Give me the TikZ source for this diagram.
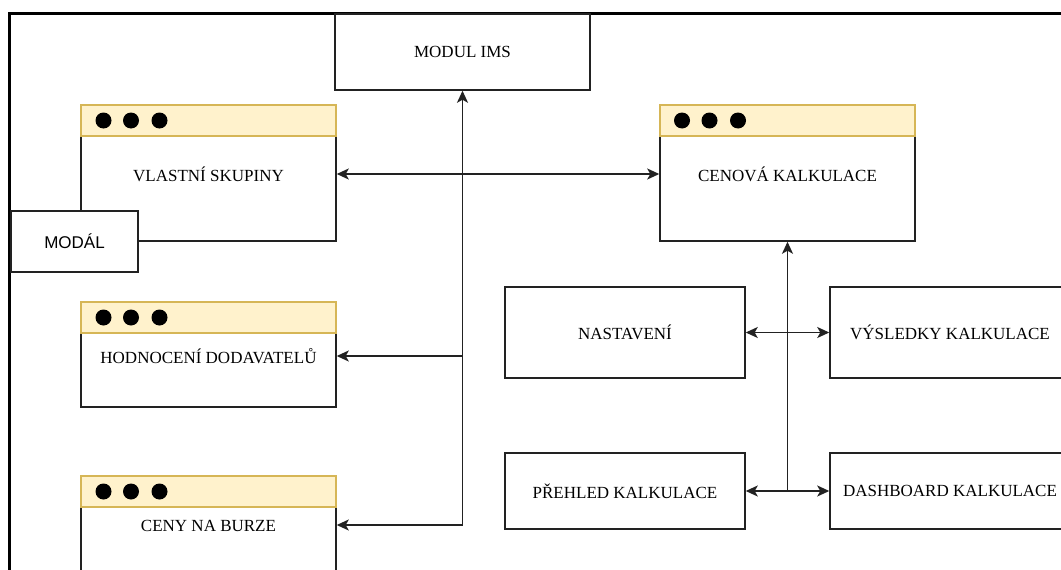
\documentclass[tikz,border=0pt]{standalone}
\usepackage{fontspec}
\setmainfont{Liberation Serif}
\newfontfamily\modalfont{Liberation Sans}
\usetikzlibrary{arrows.meta}
\definecolor{hdrfill}{HTML}{FFF2CC}
\definecolor{hdrdraw}{HTML}{D6B656}
\definecolor{boxline}{HTML}{222222}
\tikzset{
  box/.style={draw=boxline, line width=1.5pt, fill=white, inner sep=0pt, minimum width=#1},
  hdr/.style={draw=hdrdraw, line width=1.5pt, fill=hdrfill, inner sep=0pt, minimum width=255pt, minimum height=31pt},
  dot/.style={fill=black, circle, inner sep=0pt, minimum size=16pt},
  lbl/.style={font=\fontsize{17}{19}\selectfont, inner sep=0pt},
  tip/.tip={Stealth[length=12pt,width=11pt,inset=3pt]},
  arr/.style={draw=boxline, line width=1.5pt, -tip},
  darr/.style={draw=boxline, line width=1.5pt, tip-tip},
  frame/.style={draw=black, line width=2.5pt}
}
\begin{document}
\begin{tikzpicture}[x=1pt,y=-1pt]
\clip (0,0) rectangle (1061,570);
\fill[white] (0,0) rectangle (1061,570);
% outer frame
\draw[frame] (9.5,575) -- (9.5,13.5) -- (1070,13.5);
% MODUL IMS
\node[box=255pt, minimum height=76pt] (ims) at (462.5,52) {};
\node[lbl] (imsl) at (ims.center) {MODUL IMS};
% Vlastni skupiny window
\node[box=255pt, minimum height=105pt] (vs) at (208.5,188.5) {};
\node[hdr] (vsh) at (208.5,120.5) {};
\node[dot] (vsd1) at (103.5,120.5) {};
\node[dot] (vsd2) at (131,120.5) {};
\node[dot] (vsd3) at (159.5,120.5) {};
\node[lbl] (vsl) at (208.5,174) {VLASTNÍ SKUPINY};
% Modal
\node[box=127pt, minimum height=61pt] (md) at (74.5,241.5) {};
\node[lbl, font=\modalfont\fontsize{17}{19}\selectfont] (mdl) at (md.center) {MODÁL};
% Cenova kalkulace window
\node[box=255pt, minimum height=105pt] (ck) at (787.5,188.5) {};
\node[hdr] (ckh) at (787.5,120.5) {};
\node[dot] (ckd1) at (682,120.5) {};
\node[dot] (ckd2) at (709.5,120.5) {};
\node[dot] (ckd3) at (738,120.5) {};
\node[lbl] (ckl) at (787.5,174) {CENOVÁ KALKULACE};
% Hodnoceni dodavatelu window
\node[box=255pt, minimum height=75pt] (hd) at (208.5,369.5) {};
\node[hdr] (hdh) at (208.5,317.5) {};
\node[dot] (hdd1) at (103.5,317.5) {};
\node[dot] (hdd2) at (131,317.5) {};
\node[dot] (hdd3) at (159.5,317.5) {};
\node[lbl] (hdl) at (208.5,356) {HODNOCENÍ DODAVATELŮ};
% Ceny na burze window
\node[box=255pt, minimum height=105pt] (cb) at (208.5,559.5) {};
\node[hdr] (cbh) at (208.5,491.5) {};
\node[dot] (cbd1) at (103.5,491.5) {};
\node[dot] (cbd2) at (131,491.5) {};
\node[dot] (cbd3) at (159.5,491.5) {};
\node[lbl] (cbl) at (208.5,526) {CENY NA BURZE};
% right boxes
\node[box=240pt, minimum height=91pt] (ns) at (625,332.5) {};
\node[lbl] (nsl) at (ns.center) {NASTAVENÍ};
\node[box=240pt, minimum height=91pt] (vy) at (950,332.5) {};
\node[lbl] (vyl) at (vy.center) {VÝSLEDKY KALKULACE};
\node[box=240pt, minimum height=76pt] (ph) at (625,491) {};
\node[lbl] (phl) at (ph.center) {PŘEHLED KALKULACE};
\node[box=240pt, minimum height=76pt] (db) at (950,491) {};
\node[lbl] (dbl) at (db.center) {DASHBOARD KALKULACE};
% connectors
\coordinate (jb) at (462.5,525);
\draw[arr] (jb) -- (ims.south);
\draw[arr] (jb) -- (cb.east |- jb);
\draw[arr] (ims.south |- hdl) -- (hd.east |- hdl);
\draw[darr] (vs.east |- vsl) -- (ck.west |- vsl);
\coordinate (jc) at (787.5,491);
\draw[arr] (jc) -- (ck.south);
\draw[darr] (ns.east) -- (vy.west);
\draw[darr] (ph.east) -- (db.west);
\end{tikzpicture}
\end{document}
